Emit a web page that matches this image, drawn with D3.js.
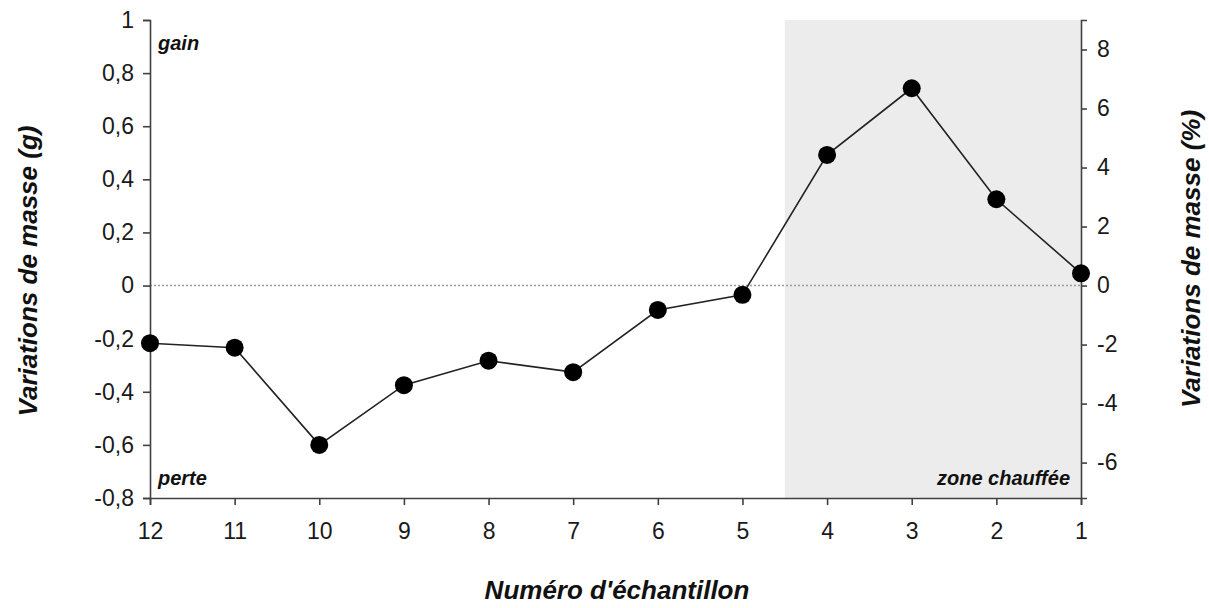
<!DOCTYPE html>
<html>
<head>
<meta charset="utf-8">
<script src="https://cdn.jsdelivr.net/npm/d3@7"></script>
<style>
  html, body { margin: 0; padding: 0; background: #fff; }
  svg { display: block; font-family: "Liberation Sans", Arial, sans-serif; }
</style>
</head>
<body>
<svg id="chart" width="1209" height="608"></svg>
<script>
// ---- data ----
const samples = ["12", "11", "10", "9", "8", "7", "6", "5", "4", "3", "2", "1"];
const massVariation = [-0.217, -0.234, -0.600, -0.375, -0.283, -0.326, -0.092, -0.035, 0.492, 0.743, 0.325, 0.046];
const leftTicks = [-0.8, -0.6, -0.4, -0.2, 0, 0.2, 0.4, 0.6, 0.8, 1];
const leftTickLabels = ["-0,8", "-0,6", "-0,4", "-0,2", "0", "0,2", "0,4", "0,6", "0,8", "1"];
const rightTicks = [-6, -4, -2, 0, 2, 4, 6, 8];
const rightTickLabels = ["-6", "-4", "-2", "0", "2", "4", "6", "8"];
const heatedZone = ["4", "1"]; // from between 5 and 4 to sample 1
const leftDomain = [-0.8, 1];
const rightDomain = [-7.2, 9];

// ---- layout ----
const svg = d3.select("#chart");
const x0 = 150, x1 = 1081, yTop = 20, yBot = 498;

const x = d3.scalePoint().domain(samples).range([x0, x1]).padding(0);
const y = d3.scaleLinear().domain(leftDomain).range([yBot, yTop]);
const yR = d3.scaleLinear().domain(rightDomain).range([yBot, yTop]);

// heated zone background
const step = x.step();
svg.append("rect")
  .attr("x", x(heatedZone[0]) - step / 2)
  .attr("y", yTop)
  .attr("width", x(heatedZone[1]) - (x(heatedZone[0]) - step / 2))
  .attr("height", yBot - yTop)
  .attr("fill", "#ececec");

// zero dotted line
svg.append("line")
  .attr("x1", x0).attr("x2", x1)
  .attr("y1", y(0)).attr("y2", y(0))
  .attr("stroke", "#9a9a9a").attr("stroke-width", 1.5)
  .attr("stroke-dasharray", "2,2");

// axes
const axisColor = "#404040";
const styleAxis = g => {
  g.select(".domain").attr("stroke", axisColor).attr("stroke-width", 1.6);
  g.selectAll(".tick line").attr("stroke", axisColor).attr("stroke-width", 1.6);
  g.selectAll(".tick text").attr("fill", "#1a1a1a").attr("font-size", "23px")
    .attr("font-family", "'Liberation Sans', Arial, sans-serif");
};

svg.append("g")
  .attr("transform", `translate(${x0},0)`)
  .call(d3.axisLeft(y).tickValues(leftTicks).tickFormat((d, i) => leftTickLabels[i]).tickSizeOuter(0).tickSize(7).tickPadding(9))
  .call(styleAxis);

svg.append("g")
  .attr("transform", `translate(${x1},0)`)
  .call(d3.axisRight(yR).tickValues(rightTicks).tickFormat((d, i) => rightTickLabels[i]).tickSizeOuter(0).tickSize(6).tickPadding(10))
  .call(styleAxis);

svg.append("g")
  .attr("transform", `translate(0,${yBot})`)
  .call(d3.axisBottom(x).tickSizeOuter(0).tickSize(7).tickPadding(18))
  .call(styleAxis);

// line + points
const pts = samples.map((s, i) => ({ s, v: massVariation[i] }));
svg.append("path")
  .datum(pts)
  .attr("fill", "none")
  .attr("stroke", "#222")
  .attr("stroke-width", 1.6)
  .attr("d", d3.line().x(d => x(d.s)).y(d => y(d.v)));

svg.selectAll("circle.pt")
  .data(pts)
  .join("circle")
  .attr("class", "pt")
  .attr("cx", d => x(d.s))
  .attr("cy", d => y(d.v))
  .attr("r", 9)
  .attr("fill", "#000");

// annotations
const ann = (t, xx, yy, anchor) => svg.append("text")
  .attr("x", xx).attr("y", yy)
  .attr("text-anchor", anchor)
  .attr("font-size", "20px").attr("font-weight", "bold").attr("font-style", "italic")
  .attr("fill", "#111")
  .text(t);
ann("gain", 158, 50, "start");
ann("perte", 158, 485, "start");
ann("zone chauffée", 1070, 485, "end");

// axis titles
const titleStyle = s => s.attr("font-size", "26px").attr("font-weight", "bold").attr("font-style", "italic").attr("fill", "#111").attr("text-anchor", "middle");
svg.append("text")
  .attr("transform", `translate(37,${(yTop + yBot) / 2 + 12}) rotate(-90)`)
  .call(titleStyle)
  .text("Variations de masse (g)");
svg.append("text")
  .attr("transform", `translate(1200,${(yTop + yBot) / 2}) rotate(-90)`)
  .call(titleStyle)
  .text("Variations de masse (%)");
svg.append("text")
  .attr("x", 617).attr("y", 599)
  .call(titleStyle)
  .text("Numéro d'échantillon");
</script>
</body>
</html>
